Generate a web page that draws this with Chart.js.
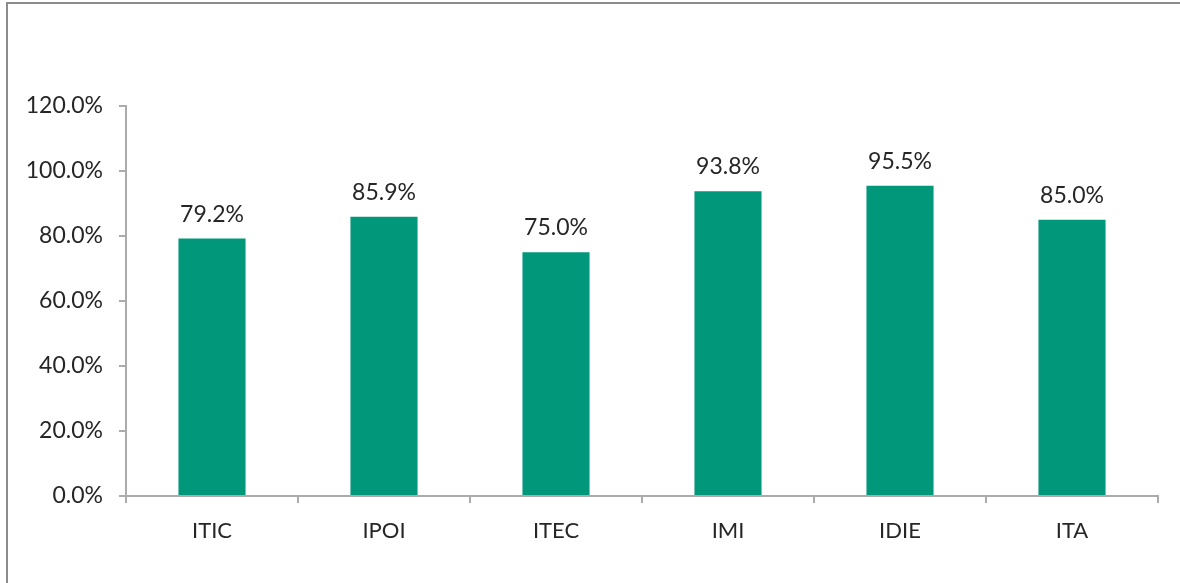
<!DOCTYPE html>
<html>
<head>
<meta charset="utf-8">
<script src="https://cdn.jsdelivr.net/npm/chart.js@4/dist/chart.umd.min.js"></script>
<style>
  html, body { margin: 0; padding: 0; background: #fff; }
  #wrap { position: relative; width: 1180px; height: 583px; overflow: hidden; }
  #frame { position: absolute; left: 6px; top: 2px; width: 1300px; height: 700px;
           border-left: 2px solid #8c8c8c; border-top: 2px solid #8c8c8c; box-sizing: border-box; }
  canvas { position: absolute; left: 0; top: 0; }
</style>
</head>
<body>
<div id="wrap">
  <div id="frame"></div>
  <canvas id="chart" width="1180" height="583"></canvas>
</div>
<script>
// Данные графика
const categories = ["ITIC", "IPOI", "ITEC", "IMI", "IDIE", "ITA"];
const values = [79.2, 85.9, 75.0, 93.8, 95.5, 85.0];
const yTicks = [0, 20, 40, 60, 80, 100, 120];

const FONT = "Lato, 'Liberation Sans', sans-serif";
const TEXT = "#262626";
const AXIS = "#ababab";

// Подписи над столбцами
const barLabels = {
    id: 'barLabels',
    afterDatasetsDraw(chart) {
        const ctx = chart.ctx;
        const meta = chart.getDatasetMeta(0);
        ctx.save();
        ctx.font = "23px " + FONT;
        ctx.fillStyle = TEXT;
        ctx.textAlign = 'center';
        ctx.textBaseline = 'bottom';
        meta.data.forEach((bar, i) => {
            ctx.fillText(values[i].toFixed(1) + "%", bar.x, bar.y - 13);
        });
        ctx.restore();
    }
};

new Chart(document.getElementById("chart").getContext("2d"), {
    type: 'bar',
    data: {
        labels: categories,
        datasets: [{
            data: values,
            backgroundColor: '#00977a',
            categoryPercentage: 1,
            barPercentage: 0.39
        }]
    },
    options: {
        responsive: false,
        animation: false,
        layout: { padding: { left: 0, right: 22, top: 106, bottom: 0 } },
        plugins: { legend: { display: false }, tooltip: { enabled: false } },
        scales: {
            x: {
                grid: { drawOnChartArea: false, drawTicks: true, tickLength: 7, color: AXIS, lineWidth: 2, offset: true },
                border: { color: AXIS, width: 2 },
                ticks: { color: TEXT, font: { family: FONT, size: 22 }, padding: 15 },
                afterFit: s => { s.height = 87; }
            },
            y: {
                min: 0, max: 120,
                afterBuildTicks: s => { s.ticks = yTicks.map(v => ({ value: v })); },
                grid: { drawOnChartArea: false, drawTicks: true, tickLength: 7, color: AXIS, lineWidth: 2 },
                border: { color: AXIS, width: 2 },
                ticks: { color: TEXT, font: { family: FONT, size: 23 }, padding: 16,
                         callback: v => v.toFixed(1) + "%" },
                afterFit: s => { s.width = 126; }
            }
        }
    },
    plugins: [barLabels]
});
</script>
</body>
</html>
